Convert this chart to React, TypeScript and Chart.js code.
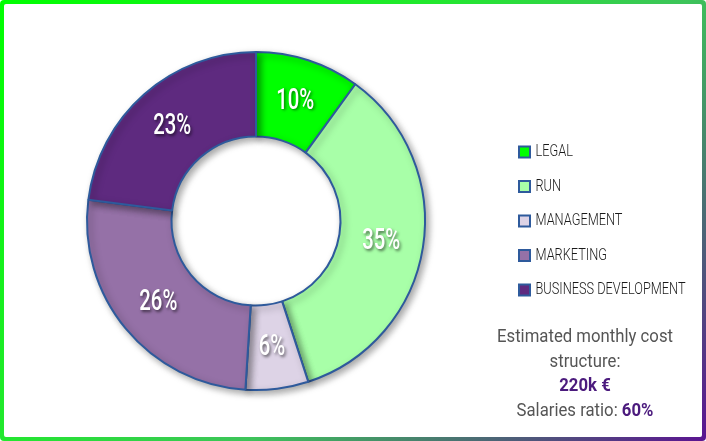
import React, { useEffect, useRef } from "react";
import { Chart, registerables } from "chart.js";

Chart.register(...registerables);

const categories = ["LEGAL", "RUN", "MANAGEMENT", "MARKETING", "BUSINESS DEVELOPMENT"];
const shares = [10, 35, 6, 26, 23];
const sliceColors = ["#00ff00", "#a8ffa8", "#ddd3e6", "#9571a7", "#5e2a7f"];
const summaryLines = ["Estimated monthly cost", "structure:"];
const totalCost = "220k €";
const salariesLabel = "Salaries ratio: ";
const salariesRatio = "60%";

const FONT = "Roboto, 'DejaVu Sans', sans-serif";
const LEGEND_SIZE = 17;
const LEGEND_WEIGHT = "300";
const LEGEND_PAD = 34.5 - LEGEND_SIZE;
const BOX = 11;
const LABEL_FONT = `500 30px ${FONT}`;
const SUMMARY_SIZE = 18;

const measurer = document.createElement("canvas").getContext("2d")!;
function textWidth(font: string, text: string) {
  measurer.font = font;
  return measurer.measureText(text).width;
}
const legendScale = 150 / textWidth(`${LEGEND_WEIGHT} ${LEGEND_SIZE}px ${FONT}`, "BUSINESS DEVELOPMENT");
const labelScale = 38 / textWidth(LABEL_FONT, "10%");
const summaryScale = 176 / textWidth(`${SUMMARY_SIZE}px ${FONT}`, "Estimated monthly cost");

let textScale = legendScale;
let textShift = -3;

const condensePlugin = {
  id: "condenseText",
  beforeInit(chart: any) {
    const ctx = chart.ctx;
    const origFill = ctx.fillText.bind(ctx);
    const origMeasure = ctx.measureText.bind(ctx);
    ctx.fillText = (text: string, x: number, y: number) => {
      ctx.save();
      ctx.translate(x + textShift, y);
      ctx.scale(textScale, 1);
      origFill(text, 0, 0);
      ctx.restore();
    };
    ctx.measureText = (text: string) => {
      const m = origMeasure(text);
      return {
        width: m.width * textScale,
        actualBoundingBoxAscent: m.actualBoundingBoxAscent,
        actualBoundingBoxDescent: m.actualBoundingBoxDescent,
        actualBoundingBoxLeft: m.actualBoundingBoxLeft * textScale,
        actualBoundingBoxRight: m.actualBoundingBoxRight * textScale,
        fontBoundingBoxAscent: m.fontBoundingBoxAscent,
        fontBoundingBoxDescent: m.fontBoundingBoxDescent,
      };
    };
  },
};

const shadowPlugin = {
  id: "sliceShadow",
  beforeDatasetsDraw(chart: any) {
    const ctx = chart.ctx;
    ctx.save();
    ctx.shadowColor = "rgba(0,0,0,0.35)";
    ctx.shadowBlur = 7;
    ctx.shadowOffsetX = 3;
    ctx.shadowOffsetY = 3;
  },
  afterDatasetsDraw(chart: any) {
    chart.ctx.restore();
  },
};

const labelPlugin = {
  id: "sliceLabels",
  afterDatasetsDraw(chart: any) {
    const ctx = chart.ctx;
    const meta = chart.getDatasetMeta(0);
    ctx.save();
    textScale = labelScale;
    textShift = 0;
    ctx.font = LABEL_FONT;
    ctx.fillStyle = "#ffffff";
    ctx.textAlign = "center";
    ctx.textBaseline = "middle";
    ctx.shadowColor = "rgba(0,0,0,0.55)";
    ctx.shadowBlur = 3;
    ctx.shadowOffsetX = 1.5;
    ctx.shadowOffsetY = 1.5;
    meta.data.forEach((arc: any, i: number) => {
      const p = arc.tooltipPosition(false);
      ctx.fillText(`${shares[i]}%`, p.x, p.y + 1);
    });
    textScale = legendScale;
    textShift = -3;
    ctx.restore();
  },
};

export default function App() {
  const canvasRef = useRef<HTMLCanvasElement | null>(null);

  useEffect(() => {
    document.body.style.margin = "0";
    const canvas = canvasRef.current;
    if (!canvas) return;
    const legendWidth = LEGEND_PAD + BOX + LEGEND_SIZE / 2 + 150 + 10;
    const legendLeft = 519 - LEGEND_PAD;
    const padRight = Math.max(0, 706 - legendLeft - legendWidth);
    const padLeft = 512 - legendLeft;

    const chart = new Chart(canvas, {
      type: "doughnut",
      data: {
        labels: categories,
        datasets: [
          {
            data: shares,
            backgroundColor: sliceColors,
            borderColor: "#2e5a9c",
            borderWidth: 2,
          },
        ],
      },
      options: {
        animation: false,
        responsive: false,
        maintainAspectRatio: false,
        cutout: "50%",
        layout: { padding: { top: 51, bottom: 50, left: padLeft, right: padRight } },
        plugins: {
          tooltip: { enabled: false },
          legend: {
            position: "right",
            align: "center",
            labels: {
              boxWidth: BOX,
              boxHeight: BOX,
              padding: LEGEND_PAD,
              color: "#1a1a1a",
              font: { family: FONT, size: LEGEND_SIZE, weight: LEGEND_WEIGHT },
            },
          },
        },
      },
      plugins: [condensePlugin, shadowPlugin, labelPlugin],
    });
    return () => chart.destroy();
  }, []);

  const purple = { color: "#4b1a7d", fontWeight: 700 } as const;

  return (
    <div
      style={{
        position: "fixed",
        left: 0,
        top: 0,
        width: 706,
        height: 441,
        boxSizing: "border-box",
        borderRadius: 4,
        background:
          "linear-gradient(135deg, #00ff00 0%, #22e82e 38%, #3dc45a 60%, #4b6b74 80%, #5b1391 100%)",
        padding: 4,
      }}
    >
      <div style={{ width: "100%", height: "100%", background: "#ffffff", borderRadius: 2 }} />
      <canvas
        ref={canvasRef}
        width={706}
        height={441}
        style={{ position: "absolute", left: 0, top: 0, width: 706, height: 441 }}
      />
      <div
        style={{
          position: "absolute",
          left: 445,
          top: 324,
          width: 280,
          textAlign: "center",
          whiteSpace: "nowrap",
          fontFamily: FONT,
          fontSize: SUMMARY_SIZE,
          lineHeight: "24.5px",
          color: "#555555",
          transform: `scaleX(${summaryScale})`,
          transformOrigin: "140px 0",
        }}
      >
        {summaryLines.map((t) => (
          <div key={t}>{t}</div>
        ))}
        <div style={purple}>{totalCost}</div>
        <div>
          {salariesLabel}
          <span style={purple}>{salariesRatio}</span>
        </div>
      </div>
    </div>
  );
}
